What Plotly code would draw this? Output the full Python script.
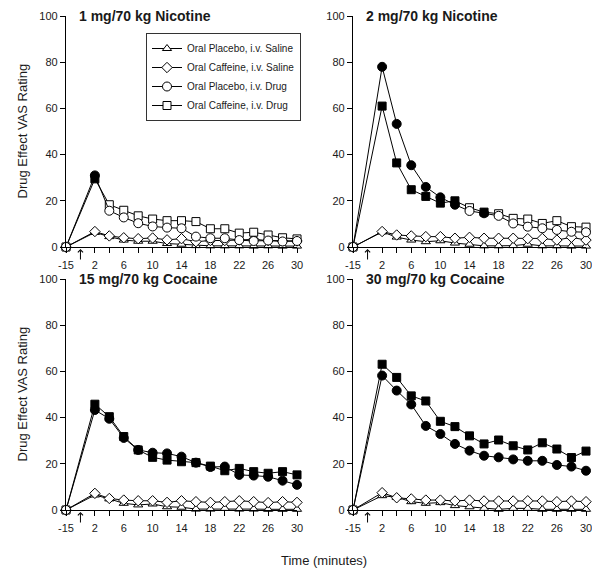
import plotly.graph_objects as go

# sampling times (minutes); -15 is the pre-drug baseline
times = [-15, 2, 4, 6, 8, 10, 12, 14, 16, 18, 20, 22, 24, 26, 28, 30]

series_names = ["Oral Placebo, i.v. Saline", "Oral Caffeine, i.v. Saline",
                "Oral Placebo, i.v. Drug", "Oral Caffeine, i.v. Drug"]
panel_titles = ["1 mg/70 kg Nicotine", "2 mg/70 kg Nicotine",
                "15 mg/70 kg Cocaine", "30 mg/70 kg Cocaine"]

tick_labels = ["-15", "2", "6", "10", "14", "18", "22", "26", "30"]

# 1 mg/70 kg nicotine
nic1_plac_sal = [0, 6.3, 4.5, 3.0, 2.5, 2.5, 1.5, 1.2, 0.6, 0.5, 0.5, 0.5, 0.4, 0.5, 0.4, 0.4]
nic1_caf_sal = [0, 6.7, 4.8, 4.0, 3.6, 3.9, 3.1, 3.6, 2.3, 2.8, 2.8, 3.0, 3.3, 2.8, 2.6, 2.6]
nic1_plac_drug = [0, 31, 15.7, 12.8, 10.3, 8.9, 8.4, 8.1, 4.5, 3.8, 3.8, 3.0, 2.6, 2.8, 2.4, 2.6]
nic1_caf_drug = [0, 29.5, 18.3, 15.9, 13.5, 12.1, 11.4, 11.4, 11.0, 7.9, 7.9, 6.0, 6.4, 5.2, 4.0, 3.5]

# 2 mg/70 kg nicotine
nic2_plac_sal = [0, 6.5, 4.3, 3.0, 2.3, 2.7, 1.7, 1.2, 0.5, 0.5, 0.6, 1.2, 0.5, 0.5, 0.4, 0.4]
nic2_caf_sal = [0, 6.7, 5.2, 4.8, 4.5, 4.5, 3.8, 4.2, 3.8, 3.8, 3.8, 3.6, 3.7, 3.0, 4.2, 3.0]
nic2_plac_drug = [0, 78, 53.3, 35.4, 26, 21.5, 18.3, 15.6, 14.6, 13.5, 10.2, 8.8, 8.1, 7.4, 6.6, 6.4]
nic2_caf_drug = [0, 61, 36.4, 24.8, 21.9, 19, 20, 17, 15.1, 14.4, 12.4, 12.1, 10.2, 11.4, 8.8, 8.6]

# 15 mg/70 kg cocaine
coc15_plac_sal = [0, 6.5, 4.8, 2.9, 2.2, 2.6, 1.4, 1.2, 0.4, 0.4, 0.7, 0.4, 0.4, 0.3, 0.3, 0.3]
coc15_caf_sal = [0, 7.2, 5.0, 4.3, 4.0, 4.0, 3.3, 4.0, 3.6, 3.3, 3.6, 4.0, 3.6, 3.2, 3.6, 3.3]
coc15_plac_drug = [0, 43.3, 39.5, 31.2, 26, 24.8, 24.5, 23.1, 20.5, 18.6, 18.8, 15.2, 14.9, 14.4, 12.7, 10.9]
coc15_caf_drug = [0, 45.8, 40.4, 31.8, 26, 22.8, 21.6, 20.9, 20.5, 19.0, 17.0, 18.0, 16.6, 15.9, 16.6, 15.2]

# 30 mg/70 kg cocaine
coc30_plac_sal = [0, 6.2, 5.5, 3.6, 2.9, 3.2, 1.9, 1.4, 0.7, 0.3, 0.7, 0.7, 0.3, 0.3, 0.3, 0.3]
coc30_caf_sal = [0, 7.5, 5.3, 4.8, 4.3, 4.3, 3.9, 4.3, 3.9, 3.9, 3.9, 4.0, 3.9, 3.6, 3.9, 3.6]
coc30_plac_drug = [0, 58.2, 51.7, 45.7, 36.4, 32.9, 28.6, 25.7, 23.5, 22.8, 21.9, 21.3, 21.3, 19.5, 18.8, 17]
coc30_caf_drug = [0, 63.1, 57.4, 49.4, 47.2, 38.4, 36.1, 32.1, 28.6, 30.3, 27.8, 26, 29.1, 26.4, 22.7, 25.5]

# time points where the drug curves are shown as filled symbols
nic1_filled = [2]
nic2_filled = [2, 4, 6, 8, 10, 12, 16]
coc15_filled = times[1:]
coc30_filled = times[1:]

panels = [
    (nic1_plac_sal, nic1_caf_sal, nic1_plac_drug, nic1_caf_drug, nic1_filled),
    (nic2_plac_sal, nic2_caf_sal, nic2_plac_drug, nic2_caf_drug, nic2_filled),
    (coc15_plac_sal, coc15_caf_sal, coc15_plac_drug, coc15_caf_drug, coc15_filled),
    (coc30_plac_sal, coc30_caf_sal, coc30_plac_drug, coc30_caf_drug, coc30_filled),
]

# the -15 baseline sits just before the axis break, two minutes ahead of time 0
xpos = [-2 if t == -15 else t for t in times]
tick_pos = [-2 if t == "-15" else int(t) for t in tick_labels]

FONT = "Liberation Sans, Arial, sans-serif"
INK = "#1a1a1a"

# page body adds an 8px margin, so the figure is 8px smaller and shifted
OFF = 8
W, H = 600 - OFF, 575 - OFF


def px(x):
    return (x - OFF) / W


def py(y):
    return 1 - (y - OFF) / H


dom_x = [[px(66), px(297)], [px(353), px(586)]] * 2
dom_y = [[py(247), py(16)]] * 2 + [[py(510), py(279)]] * 2

symbols = ["triangle-up", "diamond", "circle", "square"]
sizes = [8, 8, 9, 8]
draw_order = [0, 1, 3, 2]  # squares under circles, triangles under diamonds

fig = go.Figure()
annotations = []

for p, (a, b, c, d, filled) in enumerate(panels):
    sfx = "" if p == 0 else str(p + 1)
    ys = [a, b, c, d]
    for k in draw_order:
        if k >= 2:
            colors = ["black" if t in filled else "white" for t in times]
        else:
            colors = "white"
        fig.add_trace(go.Scatter(
            x=xpos, y=ys[k], name=series_names[k], mode="lines+markers",
            xaxis="x" + sfx, yaxis="y" + sfx, cliponaxis=False,
            showlegend=(p == 0), legendrank=k + 1,
            line=dict(color="black", width=1),
            marker=dict(symbol=symbols[k], size=sizes[k], color=colors,
                        line=dict(color="black", width=1)),
        ))

    axis_common = dict(showline=True, linecolor="black", linewidth=1.2,
                       ticks="outside", ticklen=5, tickwidth=1, tickcolor="black",
                       showgrid=False, zeroline=False, automargin=False,
                       tickfont=dict(family=FONT, size=11, color=INK))
    fig.update_layout(**{
        "xaxis" + sfx: dict(axis_common, domain=dom_x[p], anchor="y" + sfx,
                            range=[-2, 30], tickmode="array", tickvals=tick_pos,
                            ticktext=tick_labels, ticklabelstandoff=3,
                            minor=dict(tickmode="array", tickvals=list(range(4, 30, 4)),
                                       ticks="outside", ticklen=5, tickwidth=1,
                                       tickcolor="black")),
        "yaxis" + sfx: dict(axis_common, domain=dom_y[p], anchor="x" + sfx,
                            range=[0, 100], tickmode="array",
                            tickvals=[0, 20, 40, 60, 80, 100]),
    })

    annotations.append(dict(
        text="<b>" + panel_titles[p] + "</b>", xref="x" + sfx + " domain",
        yref="y" + sfx + " domain", x=0, y=1, xshift=11, xanchor="left",
        yanchor="middle", showarrow=False, font=dict(family=FONT, size=14, color=INK)))
    # injection marker at time 0
    annotations.append(dict(
        text="", x=0, y=0, xref="x" + sfx, yref="y" + sfx, showarrow=True,
        ax=0, ay=14, standoff=2, arrowhead=4, arrowsize=1, arrowwidth=1,
        arrowcolor="black"))
    if p % 2 == 0:
        annotations.append(dict(
            text="Drug Effect VAS Rating", xref="paper", yref="y" + sfx + " domain",
            x=px(22), y=0.5, textangle=-90, showarrow=False,
            xanchor="center", yanchor="middle",
            font=dict(family=FONT, size=13, color=INK)))

annotations.append(dict(
    text="Time (minutes)", xref="paper", yref="paper", x=px(324), y=py(560),
    xanchor="center", yanchor="middle", showarrow=False,
    font=dict(family=FONT, size=13, color=INK)))

fig.update_layout(
    width=W, height=H,
    margin=dict(l=0, r=0, t=0, b=0, autoexpand=False),
    paper_bgcolor="white", plot_bgcolor="white",
    font=dict(family=FONT, color=INK),
    annotations=annotations,
    legend=dict(x=px(146), y=py(33), xanchor="left", yanchor="top",
                bgcolor="white", bordercolor="#333", borderwidth=1,
                font=dict(family=FONT, size=10, color=INK)),
)

fig.write_html("out.html")
